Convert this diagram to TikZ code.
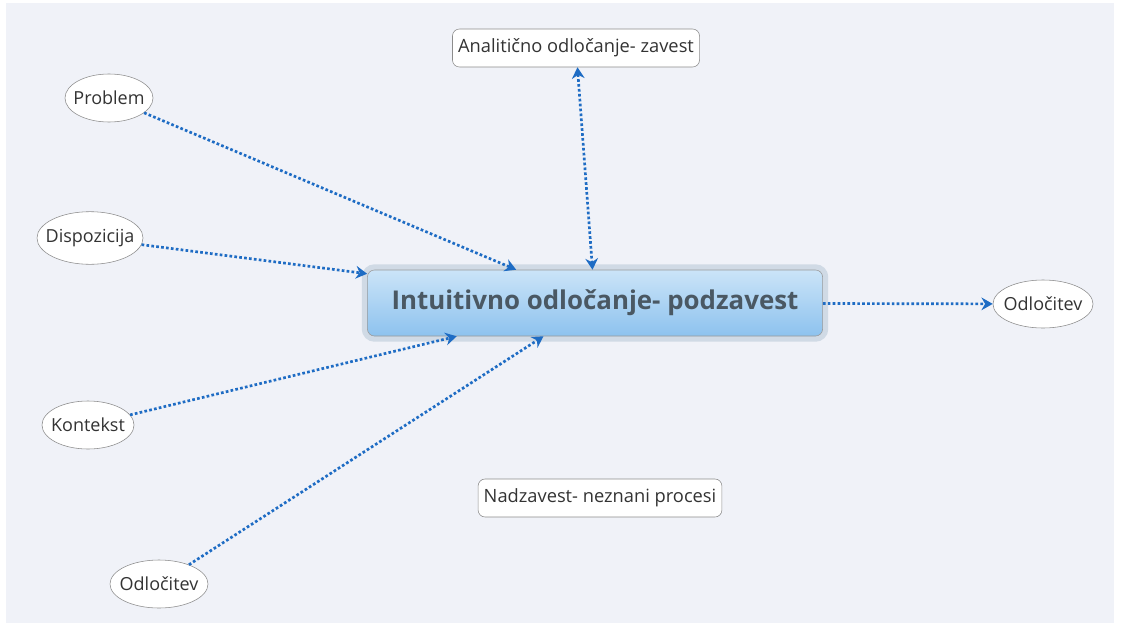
\documentclass[tikz,border=0pt]{standalone}
\usepackage{fontspec}
\setmainfont{Open Sans}
\usetikzlibrary{arrows.meta,shapes.geometric}
\definecolor{bgcol}{HTML}{F0F2F8}
\definecolor{linkcol}{HTML}{1E6CC4}
\definecolor{glowcol}{HTML}{D0DAE5}
\definecolor{topcol}{HTML}{CBE4F8}
\definecolor{botcol}{HTML}{8DC2EE}
\definecolor{maintxt}{HTML}{4A5863}

\begin{document}
\begin{tikzpicture}[x=0.025cm,y=-0.025cm]
\tikzset{leaf/.style={ellipse, draw=black!45, fill=white, inner xsep=-14pt, inner ysep=7pt, minimum height=1.2cm, text=black!80, font=\fontsize{12.8}{14}\selectfont}}
\tikzset{note/.style={rectangle, rounded corners=5pt, draw=black!45, fill=white, minimum height=0.95cm, inner xsep=4pt, text=black!80, font=\fontsize{13}{15}\selectfont}}
\tikzset{topic/.style={rectangle, rounded corners=5pt, draw=black!40, top color=topcol, bottom color=botcol, preaction={draw=glowcol, line width=8pt}, minimum width=11.375cm, minimum height=1.65cm, text=maintxt, font=\fontsize{18.4}{22}\bfseries\selectfont}}
\tikzset{link/.style={linkcol, line width=1.9pt, dash pattern=on 1.9pt off 1.6pt, -{Stealth[length=8pt,width=9pt]}}}
\useasboundingbox (0,0) rectangle (1122,631);
\fill[bgcol] (6,3) rectangle (1114,623);
% centre and the boxes
\node[topic] (intuit) at (595,303) {Intuitivno odločanje- podzavest};
\node[note] (anal) at (576,48) {Analitično odločanje- zavest};
\node[note] (nadz) at (600,498) {Nadzavest- neznani procesi};
% inputs
\node[leaf, minimum width=2.2cm] (problem) at (109,98) {Problem};
\node[leaf, minimum width=2.65cm] (dispo) at (90,238) {Dispozicija};
\node[leaf, minimum width=2.3cm] (kontekst) at (88,425) {Kontekst};
\node[leaf, minimum width=2.45cm] (odlin) at (159,584) {Odločitev};
\node[leaf, minimum width=2.5cm] (odlout) at (1043,304) {Odločitev};
% links
\draw[link] (problem) -- (intuit);
\draw[link] (dispo) -- (intuit);
\draw[link] (kontekst) -- (intuit);
\draw[link] (odlin) -- (intuit);
\draw[link, {Stealth[length=8pt,width=9pt]}-{Stealth[length=8pt,width=9pt]}] (anal) -- (intuit);
\draw[link] (intuit) -- (odlout);
\end{tikzpicture}
\end{document}
